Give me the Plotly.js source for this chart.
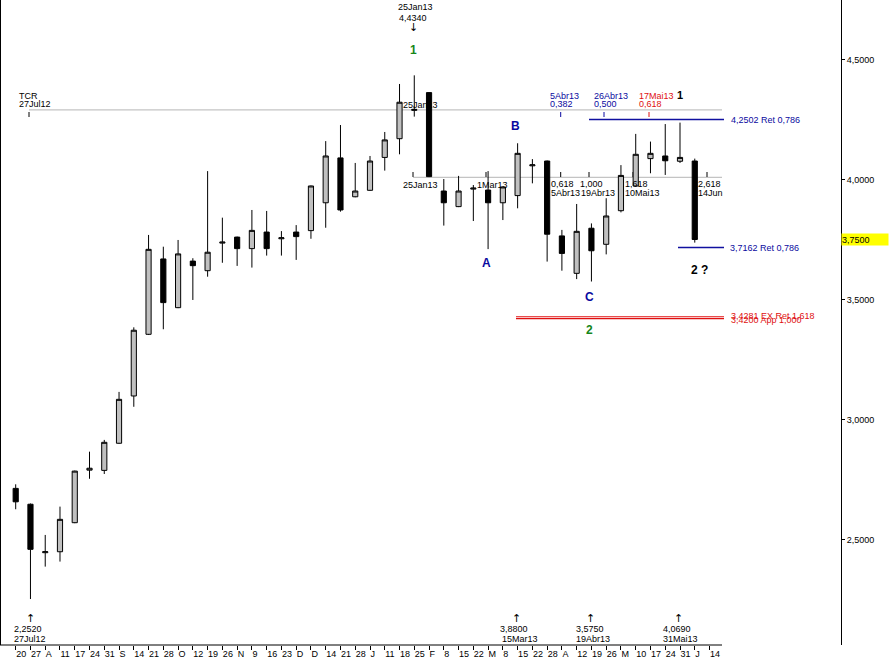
<!DOCTYPE html>
<html>
<head>
<meta charset="utf-8">
<script src="https://cdn.plot.ly/plotly-3.0.1.min.js"></script>
<style>html,body{margin:0;padding:0;background:#fff;}#chart{width:889px;height:663px;}</style>
</head>
<body>
<div id="chart"></div>
<script>
// Weekly tick labels (Jul 20 2012 .. Jun 14 2013)
const tickLabels = ["20","27","A","11","17","24","31","S","14","21","28","O","12","19","26","N","9","16","23","D","D","14","21","28","J","11","18","25","F","8","15","22","M","8","15","22","28","A","12","19","26","M","10","17","24","31","J","14"];

const openV  = [2.713,2.647,2.445,2.449,2.570,2.789,2.788,2.901,3.098,3.355,3.669,3.466,3.660,3.620,3.735,3.760,3.712,3.781,3.753,3.781,3.787,3.903,4.090,3.928,3.955,4.092,4.170,4.288,4.362,3.952,3.887,3.960,3.956,3.903,3.933,4.057,4.077,3.765,3.609,3.797,3.730,3.870,3.973,4.087,4.098,4.076,4.077];
const highV  = [2.730,2.650,2.519,2.637,2.787,2.866,2.915,3.115,3.384,3.769,3.720,3.748,3.672,4.035,3.841,3.762,3.873,3.869,3.785,3.810,3.975,4.160,4.227,4.069,4.098,4.198,4.398,4.434,4.364,4.002,4.015,3.977,4.035,3.971,4.151,4.085,4.079,3.790,3.898,3.817,3.922,4.060,4.190,4.158,4.231,4.237,4.087];
const lowV   = [2.626,2.252,2.387,2.408,2.568,2.753,2.773,2.899,3.053,3.352,3.376,3.464,3.498,3.595,3.653,3.640,3.633,3.683,3.683,3.665,3.753,3.799,3.866,3.926,3.953,4.037,4.105,4.262,4.010,3.808,3.885,3.827,3.710,3.831,3.880,3.984,3.658,3.620,3.585,3.575,3.688,3.863,3.971,4.026,4.019,4.069,3.737];
const closeV = [2.657,2.459,2.449,2.584,2.785,2.797,2.905,3.084,3.372,3.709,3.487,3.690,3.641,3.697,3.739,3.712,3.788,3.712,3.757,3.762,3.973,4.098,3.873,3.952,4.077,4.165,4.322,4.292,4.012,3.903,3.952,3.964,3.903,3.969,4.109,4.061,3.772,3.692,3.784,3.703,3.848,4.017,4.105,4.109,4.078,4.092,3.750];

// Reference levels
const tcrLevel = 4.290;
const baseLevel = 4.009;
const retUpper = 4.2502;
const retLower = 3.7162;
const redLevels = [3.4281, 3.4200];
const lastPrice = 3.75;

const xIdx = openV.map((_, i) => i);
const tickIdx = tickLabels.map((_, i) => i);

const XMIN = -1.0636, XMAX = 55.906, YTOP = 4.7479, YBOT = 2.0604;
const PW = 841, PH = 645;
function X(px){ return XMIN + px / PW * (XMAX - XMIN); }
function Y(py){ return YTOP - py / PH * (YTOP - YBOT); }

const FONT = "Liberation Sans, Arial, sans-serif";
const ARROWFONT = "DejaVu Sans, sans-serif";
const BLUE = "#0a0aa0", RED = "#e01010", GREEN = "#16861a", GRAY = "#c4c4c4";

function ann(text, px, py, color, opt) {
  opt = opt || {};
  return {
    x: X(px), y: Y(py), xref: "x", yref: "y", text: text, showarrow: false,
    xanchor: opt.anchor || "left", yanchor: "middle",
    font: {family: opt.family || FONT, size: opt.size || 9, color: color || "#000", weight: opt.bold ? "bold" : "normal"},
    borderpad: 0
  };
}
const arrowOpt = {anchor: "center", size: 11, family: ARROWFONT};

const annotations = [
  ann("25Jan13", 397, 7), ann("4,4340", 398, 17.5), ann("↓", 413, 27, "#000", arrowOpt),
  ann("1", 413, 50, GREEN, {anchor: "center", size: 12, bold: true}),
  ann("TCR", 18, 96), ann("27Jul12", 18, 104),
  ann("25Jan13", 402, 104.5),
  ann("25Jan13", 402, 184.5), ann("1Mar13", 476, 184.5),
  ann("0,618", 550, 184.3), ann("5Abr13", 550, 193),
  ann("1,000", 579, 184.3), ann("19Abr13", 580, 193),
  ann("1,618", 624, 184.3), ann("10Mai13", 624, 193),
  ann("2,618", 697, 184.3), ann("14Jun", 697, 193),
  ann("5Abr13", 549, 96, BLUE), ann("0,382", 549, 104, BLUE),
  ann("26Abr13", 593, 96, BLUE), ann("0,500", 593, 104, BLUE),
  ann("17Mai13", 638, 96, RED), ann("0,618", 638, 104, RED),
  ann("1", 676, 95, "#000", {size: 11, bold: true}),
  ann("4,2502 Ret 0,786", 730, 119.5, BLUE),
  ann("3,7162 Ret 0,786", 729, 248, BLUE),
  ann("3,4281 EX Ret 1,618", 730, 316, RED),
  ann("3,4200 App 1,000", 730, 319.5, RED),
  ann("A", 486, 263, BLUE, {anchor: "center", size: 12, bold: true}),
  ann("B", 515, 126, BLUE, {anchor: "center", size: 12, bold: true}),
  ann("C", 589, 297, BLUE, {anchor: "center", size: 12, bold: true}),
  ann("2", 589, 330, GREEN, {anchor: "center", size: 12, bold: true}),
  ann("2 ?", 690, 270, "#000", {size: 12, bold: true}),
  ann("↑", 30, 618, "#000", arrowOpt), ann("2,2520", 13, 628.5), ann("27Jul12", 13, 638.5),
  ann("↑", 516, 618, "#000", arrowOpt), ann("3,8800", 499, 628.5), ann("15Mar13", 501, 638.5),
  ann("↑", 590, 618, "#000", arrowOpt), ann("3,5750", 575, 628.5), ann("19Abr13", 575, 638.5),
  ann("↑", 678, 618, "#000", arrowOpt), ann("4,0690", 662, 628.5), ann("31Mai13", 662, 638.5),
  {x: 1, xref: "paper", y: lastPrice, yref: "y", text: "3,7500", showarrow: false, xanchor: "left", yanchor: "middle",
   align: "left", width: 46, height: 11, bgcolor: "#ffff00", borderpad: 0, font: {family: FONT, size: 9, color: "#000"}}
];

function hline(x0, x1, y, color, w, layer) {
  return {type: "line", xref: "x", yref: "y", x0: x0, x1: x1, y0: y, y1: y, line: {color: color, width: w || 1}, layer: layer || "below"};
}
function vtick(px, y0, y1, color) {
  return {type: "line", xref: "x", yref: "y", x0: X(px), x1: X(px), y0: Y(y0), y1: Y(y1), line: {color: color, width: 1}, layer: "below"};
}

const shapes = [
  hline(X(29), X(722), tcrLevel, GRAY, 1.2),
  hline(X(413), X(722), baseLevel, GRAY, 1.2),
  hline(X(589), X(724), retUpper, "#1010a0", 1.5, "above"),
  hline(X(678), X(724), retLower, "#1010a0", 1.5, "above"),
  hline(X(516), X(724), redLevels[0], RED, 1.2, "above"),
  hline(X(516), X(724), redLevels[1], RED, 1.2, "above"),
  vtick(29, 112, 117, "#000"),
  vtick(560.7, 112, 117, BLUE), vtick(604, 112, 117, BLUE), vtick(649, 112, 117, RED),
  vtick(413, 172, 177, "#000"), vtick(486, 172, 177, "#000"), vtick(560.7, 172, 177, "#000"),
  vtick(589, 172, 177, "#000"), vtick(633, 172, 177, "#000"), vtick(707, 172, 177, "#000"),
  // bottom axis line (only under the weeks) and left border
  {type: "line", xref: "x", yref: "paper", x0: XMIN, x1: X(722), y0: 0, y1: 0, line: {color: "#000", width: 1}, layer: "above"},
  {type: "line", xref: "paper", yref: "paper", x0: 0, x1: 0, y0: 0, y1: 1, line: {color: "#000", width: 2}, layer: "above"}
];

const trace = {
  type: "candlestick",
  x: xIdx, open: openV, high: highV, low: lowV, close: closeV,
  increasing: {line: {color: "#000", width: 1}, fillcolor: "#c0c0c0"},
  decreasing: {line: {color: "#000", width: 1}, fillcolor: "#000"},
  whiskerwidth: 0,
  hoverinfo: "skip",
  showlegend: false
};

const layout = {
  width: 889, height: 663,
  margin: {l: 0, r: 48, t: 0, b: 18, pad: 0},
  paper_bgcolor: "#fff", plot_bgcolor: "#fff",
  separators: ",.",
  boxgap: 0.5, boxgroupgap: 0.3,
  showlegend: false,
  font: {family: FONT, size: 9, color: "#000"},
  xaxis: {
    range: [XMIN, XMAX], rangeslider: {visible: false},
    tickmode: "array", tickvals: tickIdx, ticktext: tickLabels,
    ticks: "outside", ticklen: 4, tickcolor: "#000", tickwidth: 1,
    ticklabelposition: "outside right", tickangle: 0,
    showgrid: false, zeroline: false, showline: false,
    tickfont: {family: FONT, size: 9, color: "#000"}, fixedrange: true
  },
  yaxis: {
    range: [YBOT, YTOP], side: "right",
    tickvals: [2.5, 3.0, 3.5, 4.0, 4.5], tickformat: ".4f",
    ticks: "outside", ticklen: 3, tickcolor: "#000",
    showline: true, linecolor: "#000", linewidth: 1,
    showgrid: false, zeroline: false,
    tickfont: {family: FONT, size: 9, color: "#000"}, fixedrange: true
  },
  shapes: shapes,
  annotations: annotations
};

Plotly.newPlot("chart", [trace], layout, {staticPlot: true, displayModeBar: false});
</script>
</body>
</html>
